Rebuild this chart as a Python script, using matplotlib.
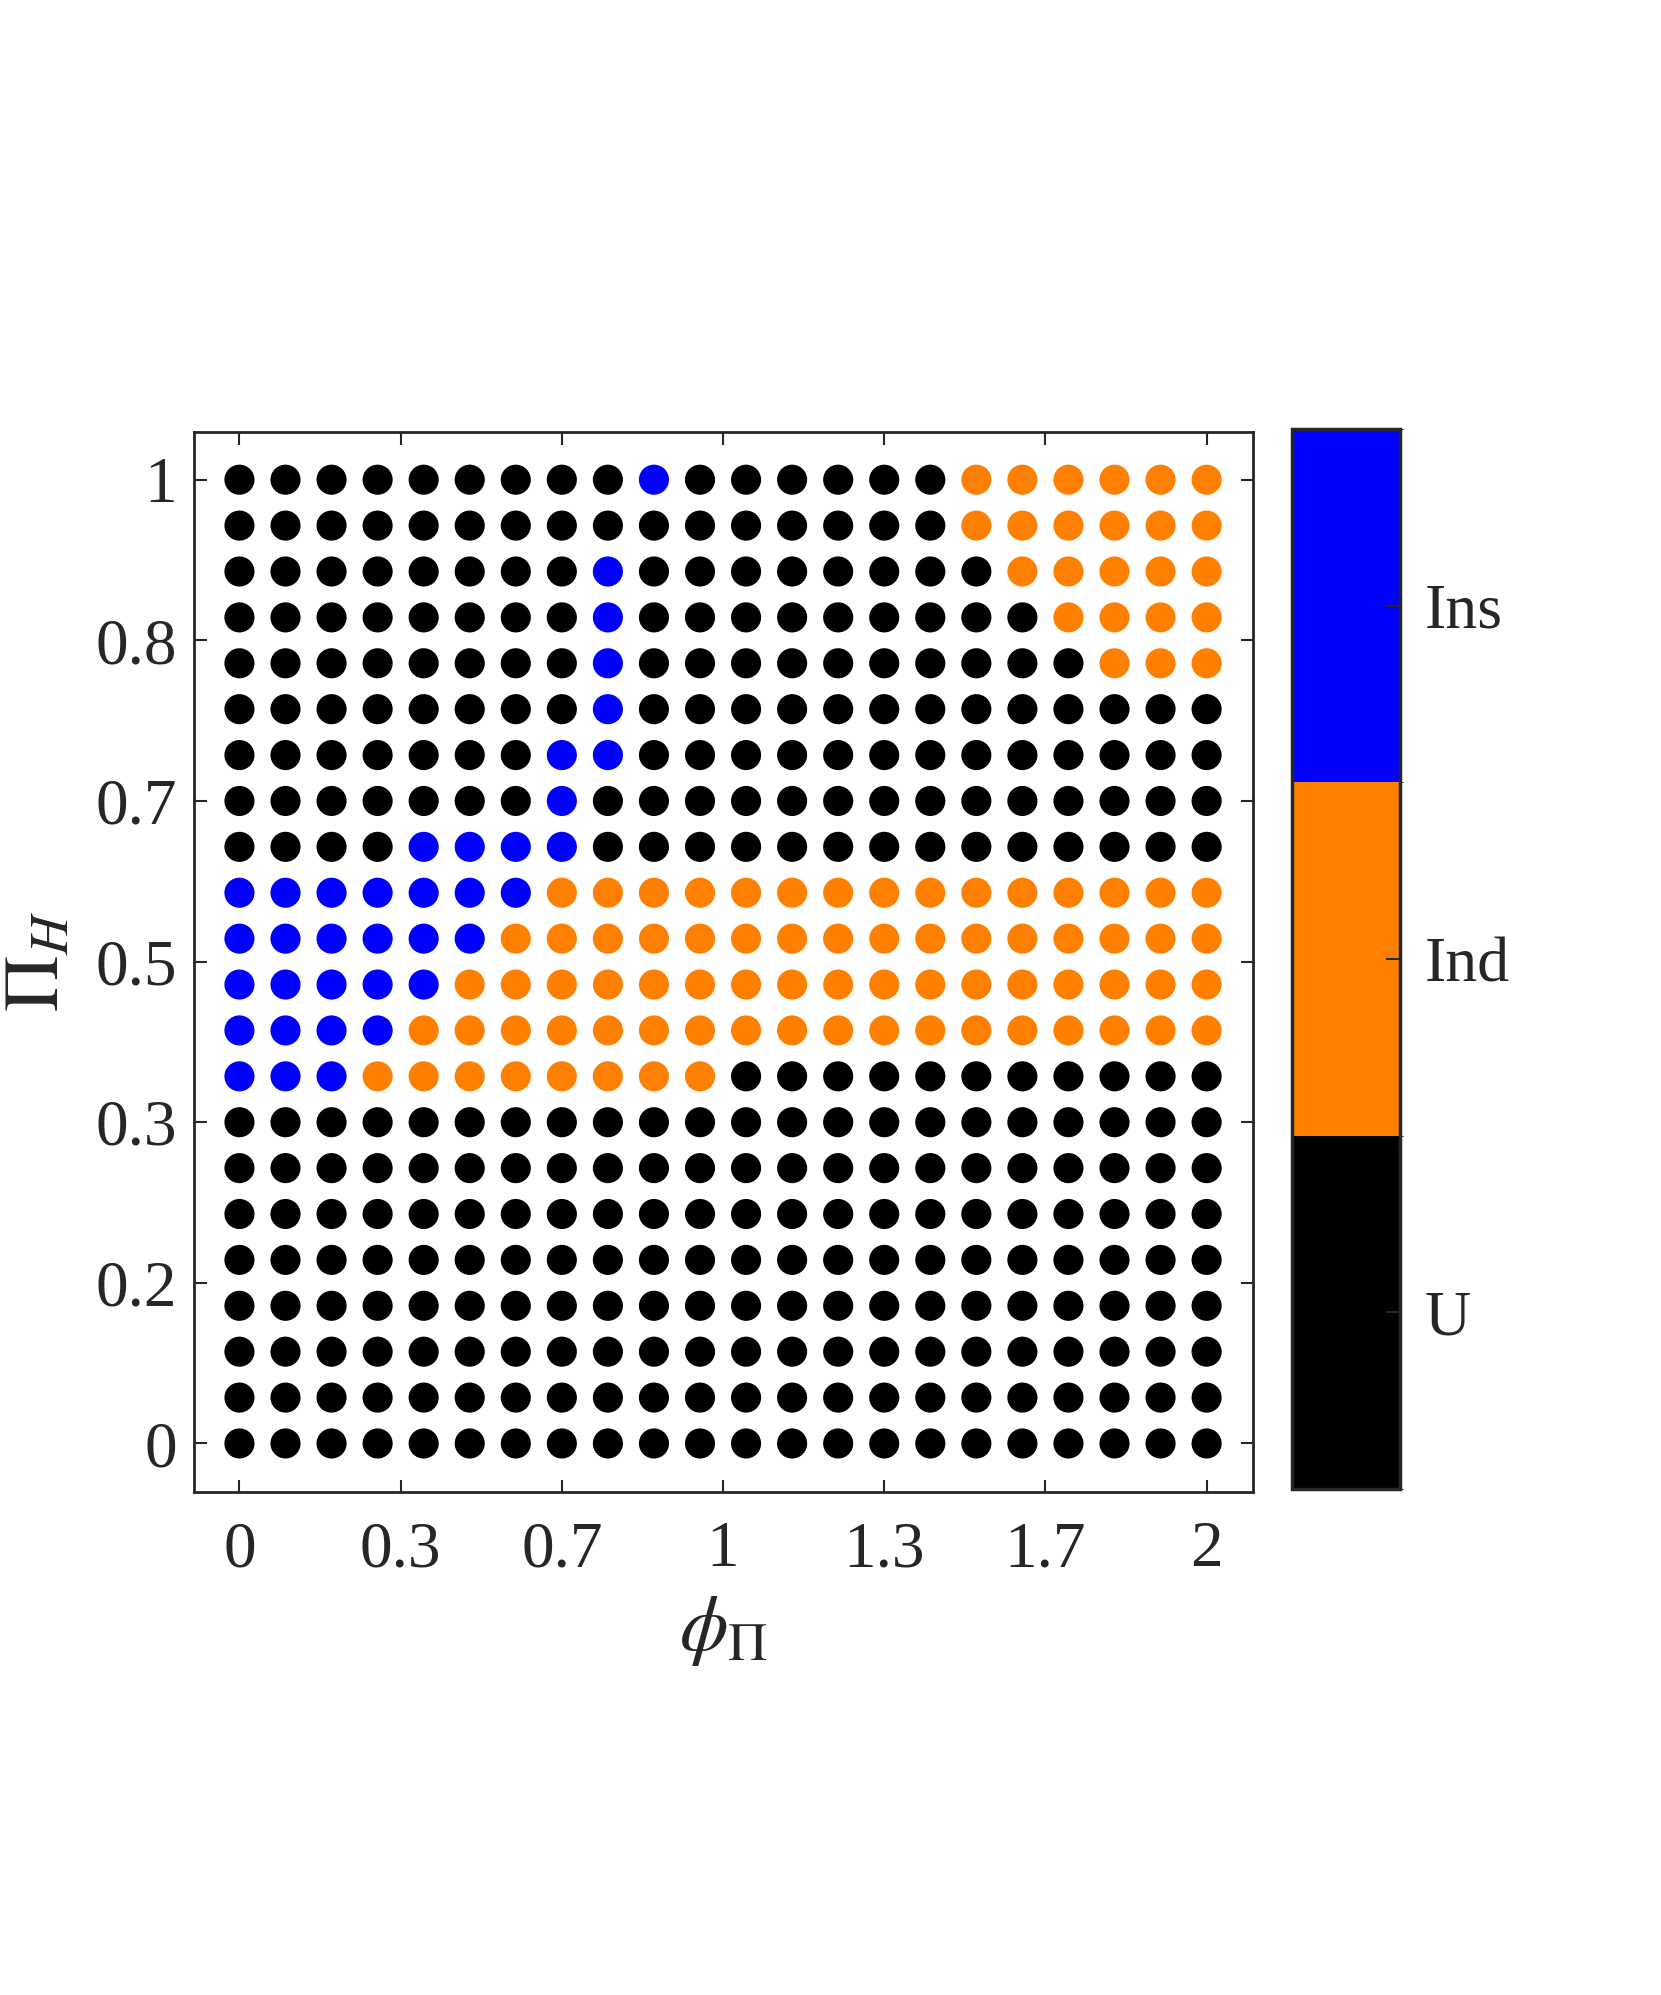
import numpy as np
import matplotlib
matplotlib.use("Agg")
from matplotlib import pyplot as plt
from matplotlib.colors import ListedColormap, BoundaryNorm

# grade de parametros
phi = np.linspace(0, 2, 22)
pih = np.linspace(0, 1, 22)

# classe de cada ponto, linhas de cima (Pi_H=1) para baixo (Pi_H=0)
# 0 = U, 1 = Ind, 2 = Ins
linhas = [
    "0000000002000000111111",
    "0000000000000000111111",
    "0000000020000000011111",
    "0000000020000000001111",
    "0000000020000000000111",
    "0000000020000000000000",
    "0000000220000000000000",
    "0000000200000000000000",
    "0000222200000000000000",
    "2222222111111111111111",
    "2222221111111111111111",
    "2222211111111111111111",
    "2222111111111111111111",
    "2221111111100000000000",
    "0000000000000000000000",
    "0000000000000000000000",
    "0000000000000000000000",
    "0000000000000000000000",
    "0000000000000000000000",
    "0000000000000000000000",
    "0000000000000000000000",
    "0000000000000000000000",
]
nomes = ["U", "Ind", "Ins"]
cores = ["#000000", "#FF8000", "#0000FF"]

xticks = [0, 1/3, 2/3, 1, 4/3, 5/3, 2]
xtlabels = ["0", "0.3", "0.7", "1", "1.3", "1.7", "2"]
yticks = [0, 1/6, 1/3, 1/2, 2/3, 5/6, 1]
ytlabels = ["0", "0.2", "0.3", "0.5", "0.7", "0.8", "1"]

plt.rcParams['font.family'] = ['Liberation Serif', 'DejaVu Serif']
plt.rcParams['mathtext.fontset'] = 'stix'

cls = np.array([[int(c) for c in l] for l in linhas[::-1]])
X, Y = np.meshgrid(phi, pih)

cmap = ListedColormap(cores)
norm = BoundaryNorm([-0.5, 0.5, 1.5, 2.5], cmap.N)

fig = plt.figure(figsize=(16.61, 19.95), dpi=100)
ax = fig.add_axes([0.1165, 0.2523, 0.6376, 0.5314])
sc = ax.scatter(X.ravel(), Y.ravel(), c=cls.ravel(), cmap=cmap, norm=norm,
                s=470, linewidths=0)

ax.set_xlim(-0.095, 2.095)
ax.set_ylim(-0.05, 1.05)
ax.set_xticks(xticks)
ax.set_xticklabels(xtlabels)
ax.set_yticks(yticks)
ax.set_yticklabels(ytlabels)
ax.tick_params(direction='in', length=9, width=1.5, colors='#262626',
               labelsize=47, top=True, right=True)
ax.tick_params(axis='x', pad=21)
ax.tick_params(axis='y', pad=12)
for s in ax.spines.values():
    s.set_linewidth(2)
    s.set_color('#262626')
ax.set_xlabel(r'$\phi_{\Pi}$', fontsize=56, labelpad=10, color='#262626')
ax.set_ylabel(r'$\Pi_H$', fontsize=56, labelpad=14, color='#262626')

cax = fig.add_axes([0.7778, 0.2536, 0.065, 0.5313])
cb = fig.colorbar(sc, cax=cax, ticks=[0, 1, 2])
cb.ax.set_yticklabels(nomes)
cb.ax.tick_params(direction='in', length=10, width=1.5, colors='#262626',
                  labelsize=46, pad=18)
cb.outline.set_linewidth(2.5)
cb.outline.set_edgecolor('#262626')

fig.savefig("out.png", dpi=100)
